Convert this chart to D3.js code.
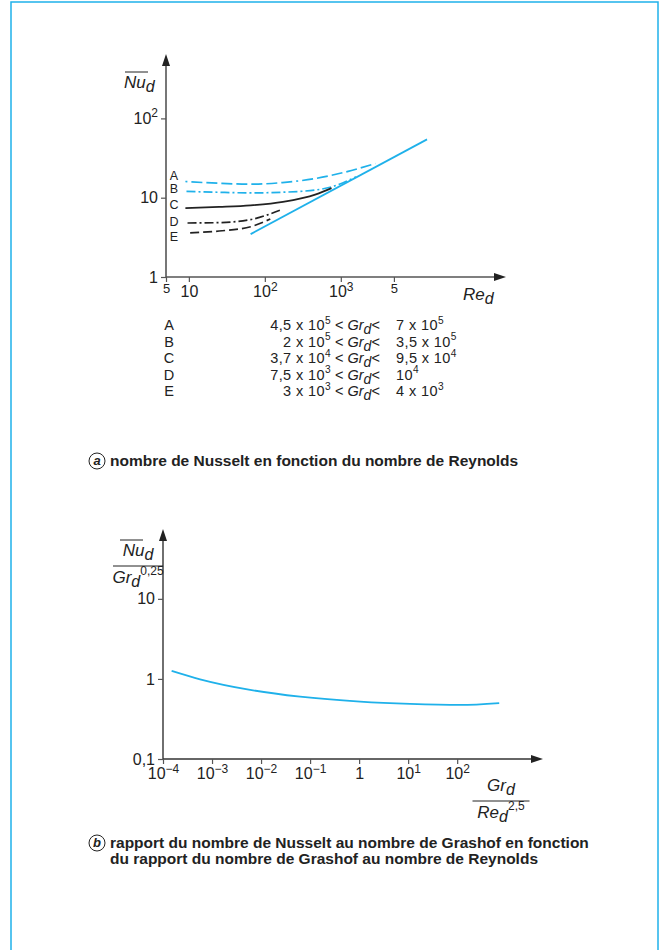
<!DOCTYPE html>
<html><head>
<meta charset="utf-8">
<script src="https://d3js.org/d3.v7.min.js"></script>
<style>
body { margin: 0; background: #fff; font-family: "Liberation Sans", Arial, sans-serif; }
</style>
</head>
<body>
<svg id="fig" width="661" height="950"></svg>
<script>
// ---- data ----
// (a) Nu_d vs Re_d, one curve per Grashof range
const curveKeys = ["A", "B", "C", "D", "E"];
const reA = [9, 25, 65, 170, 470, 1250, 2850];
const nuA = [16, 15.2, 14.8, 15.5, 17.5, 21.5, 27];
const reB = [9.3, 25, 65, 285, 755, 1580];
const nuB = [12, 11.7, 11.5, 12, 13.7, 18.3];
const reC = [9, 25, 65, 173, 470, 755];
const nuC = [7.4, 7.65, 8.0, 8.85, 11, 13.2];
const reD = [9.6, 25, 65, 167];
const nuD = [4.8, 4.85, 5.3, 7.1];
const reE = [10.4, 25, 65, 118];
const nuE = [3.6, 3.8, 4.3, 5.4];
const reLine = [65, 13650];
const nuLine = [3.47, 54.4];

const aXTicks = [5, 10, 100, 1000, 5000];
const aXLabels = [["5", ""], ["10", ""], ["10", "2"], ["10", "3"], ["5", ""]];
const aYTicks = [1, 10, 100];
const aYLabels = [["1", ""], ["10", ""], ["10", "2"]];

const legendLow = [["4,5 x 10", "5"], ["2 x 10", "5"], ["3,7 x 10", "4"], ["7,5  x 10", "3"], ["3 x 10", "3"]];
const legendHigh = [["7 x 10", "5"], ["3,5 x 10", "5"], ["9,5 x 10", "4"], ["10", "4"], ["4 x 10", "3"]];

// (b) Nu_d / Gr_d^0.25 vs Gr_d / Re_d^2.5
const ratioX = [1.5e-4, 5.7e-4, 6e-3, 0.0625, 1.05, 11, 115, 720];
const ratioY = [1.26, 0.99, 0.73, 0.60, 0.52, 0.487, 0.473, 0.50];

const bXTicks = [1e-4, 1e-3, 1e-2, 1e-1, 1, 10, 100];
const bXLabels = [["10", "\u22124"], ["10", "\u22123"], ["10", "\u22122"], ["10", "\u22121"], ["1", ""], ["10", "1"], ["10", "2"]];
const bYTicks = [0.1, 1, 10];
const bYLabels = [["0,1", ""], ["1", ""], ["10", ""]];

// ---- drawing ----
const blue = "#1fb1ea";
const axisCol = "#555";
const svg = d3.select("#fig");

svg.append("rect").attr("x", 11).attr("y", 2).attr("width", 647).attr("height", 980)
    .attr("fill", "none").attr("stroke", blue).attr("stroke-width", 1.5);

function supText(sel, base, exp, size, k) {
    sel.append("tspan").text(base);
    if (exp) sel.append("tspan").attr("dy", -size * 0.42).attr("font-size", size * (k || 0.75)).text(exp);
}

function arrowHead(g, x, y, dir) {
    const p = dir === "up"
        ? [[x, y], [x - 4, y + 12], [x + 4, y + 12]]
        : [[x, y], [x - 12, y - 4], [x - 12, y + 4]];
    g.append("path").attr("d", "M" + p.join("L") + "Z").attr("fill", "#222");
}

function styleAxis(g, labels, size) {
    g.select(".domain").remove();
    g.selectAll(".tick line").attr("stroke", axisCol).attr("stroke-width", 1.2);
    g.selectAll(".tick text").each(function(d, i) {
        const t = d3.select(this).text("").attr("fill", "#222").attr("font-size", size);
        supText(t, labels[i][0], labels[i][1], size);
    });
}

// chart a
const xa = d3.scaleLog().domain([5, 1.45e5]).range([166, 505]);
const ya = d3.scaleLog().domain([1, 630]).range([277, 55]);
const ga = svg.append("g");

ga.append("line").attr("x1", 166).attr("x2", 166).attr("y1", 277).attr("y2", 64)
    .attr("stroke", axisCol).attr("stroke-width", 1.6);
ga.append("line").attr("x1", 166).attr("x2", 496).attr("y1", 277).attr("y2", 277)
    .attr("stroke", axisCol).attr("stroke-width", 1.6);
arrowHead(ga, 166, 54, "up");
arrowHead(ga, 506, 277, "right");

const axA = ga.append("g").attr("transform", "translate(0,277)")
    .call(d3.axisBottom(xa).tickValues(aXTicks).tickSize(5).tickPadding(4));
styleAxis(axA, aXLabels, 16);
axA.selectAll(".tick text").filter((d, i) => aXLabels[i][0] === "5")
    .attr("font-size", 13).attr("dy", "0.5em");
const ayA = ga.append("g").attr("transform", "translate(166,0)")
    .call(d3.axisLeft(ya).tickValues(aYTicks).tickSize(5).tickPadding(3));
styleAxis(ayA, aYLabels, 16);

const lineA = d3.line().x(d => xa(d[0])).y(d => ya(d[1])).curve(d3.curveMonotoneX);
const series = [
    { key: "A", re: reA, nu: nuA, color: blue, dash: "2,4,11,4,11,4,11,4,11,4,11,4,11,4,11,4" },
    { key: "B", re: reB, nu: nuB, color: blue, dash: "9,3,2,3" },
    { key: "C", re: reC, nu: nuC, color: "#222", dash: null },
    { key: "D", re: reD, nu: nuD, color: "#222", dash: "9,3,2,3" },
    { key: "E", re: reE, nu: nuE, color: "#222", dash: "9,4" }
];
series.forEach(s => {
    ga.append("path").datum(s.re.map((r, i) => [r, s.nu[i]]))
        .attr("d", lineA).attr("fill", "none").attr("stroke", s.color)
        .attr("stroke-width", 1.7).attr("stroke-dasharray", s.dash);
});
ga.append("path").datum(reLine.map((r, i) => [r, nuLine[i]]))
    .attr("d", lineA).attr("fill", "none").attr("stroke", blue).attr("stroke-width", 1.8);

const letterY = [175.5, 189, 205, 222, 237];
curveKeys.forEach((k, i) => {
    ga.append("text").attr("x", 174).attr("y", letterY[i]).attr("dy", "0.35em")
        .attr("text-anchor", "middle").attr("font-size", 12.5).attr("fill", "#222").text(k);
});

// axis titles chart a
const nuLab = ga.append("text").attr("x", 124).attr("y", 88).attr("font-size", 17)
    .attr("font-style", "italic").attr("fill", "#222");
nuLab.append("tspan").text("Nu");
nuLab.append("tspan").attr("dy", 4).attr("font-size", 16).text("d");
ga.append("line").attr("x1", 125).attr("x2", 148).attr("y1", 72).attr("y2", 72)
    .attr("stroke", "#222").attr("stroke-width", 1);
const reLab = ga.append("text").attr("x", 463).attr("y", 300).attr("font-size", 17)
    .attr("font-style", "italic").attr("fill", "#222");
reLab.append("tspan").text("Re");
reLab.append("tspan").attr("dy", 4).attr("font-size", 16).text("d");

// legend
const legY = [325, 341.5, 358, 374.5, 391];
const legFont = 14.5;
curveKeys.forEach((k, i) => {
    const y = legY[i];
    const leg = ga.append("g").attr("font-size", legFont).attr("fill", "#222");
    leg.append("text").attr("x", 169).attr("y", y).attr("dy", "0.35em").attr("text-anchor", "middle").text(k);
    const lo = leg.append("text").attr("x", 331).attr("y", y).attr("dy", "0.35em")
        .attr("text-anchor", "end").attr("letter-spacing", 0.4);
    supText(lo, legendLow[i][0], legendLow[i][1], legFont, 0.7);
    const mid = leg.append("text").attr("x", 335).attr("y", y).attr("dy", "0.35em");
    mid.append("tspan").text("< ");
    mid.append("tspan").attr("font-style", "italic").text("Gr");
    mid.append("tspan").attr("font-style", "italic").attr("dy", 4).attr("font-size", 14).text("d");
    mid.append("tspan").attr("dy", -4).text("<");
    const hi = leg.append("text").attr("x", 396).attr("y", y).attr("dy", "0.35em")
        .attr("letter-spacing", 0.4);
    supText(hi, legendHigh[i][0], legendHigh[i][1], legFont, 0.7);
});

function caption(y, letter, lines) {
    svg.append("circle").attr("cx", 97).attr("cy", y - 5).attr("r", 8)
        .attr("fill", "#fff").attr("stroke", "#222").attr("stroke-width", 1);
    svg.append("text").attr("x", 97).attr("y", y - 1).attr("text-anchor", "middle")
        .attr("font-size", 13).attr("font-weight", "bold").attr("font-style", "italic")
        .attr("fill", "#222").text(letter);
    lines.forEach((l, i) => {
        svg.append("text").attr("x", 110).attr("y", y + i * 16).attr("font-size", 15.5)
            .attr("font-weight", "bold").attr("fill", "#222").text(l);
    });
}
caption(466, "a", ["nombre de Nusselt en fonction du nombre de Reynolds"]);

// chart b
const xb = d3.scaleLog().domain([1e-4, Math.pow(10, 3.73)]).range([163, 542]);
const yb = d3.scaleLog().domain([0.1, 72.4]).range([759, 530]);
const gb = svg.append("g");

gb.append("line").attr("x1", 163).attr("x2", 163).attr("y1", 759).attr("y2", 538)
    .attr("stroke", "#333").attr("stroke-width", 1.4);
gb.append("line").attr("x1", 163).attr("x2", 533).attr("y1", 759).attr("y2", 759)
    .attr("stroke", "#333").attr("stroke-width", 1.4);
arrowHead(gb, 163, 529, "up");
arrowHead(gb, 543, 759, "right");

const axB = gb.append("g").attr("transform", "translate(0,759)")
    .call(d3.axisBottom(xb).tickValues(bXTicks).tickSize(5).tickPadding(4));
styleAxis(axB, bXLabels, 16);
const ayB = gb.append("g").attr("transform", "translate(163,0)")
    .call(d3.axisLeft(yb).tickValues(bYTicks).tickSize(5).tickPadding(3));
styleAxis(ayB, bYLabels, 16);

const lineB = d3.line().x(d => xb(d[0])).y(d => yb(d[1])).curve(d3.curveMonotoneX);
gb.append("path").datum(ratioX.map((r, i) => [r, ratioY[i]]))
    .attr("d", lineB).attr("fill", "none").attr("stroke", blue).attr("stroke-width", 1.8);

// fraction labels chart b
function fraction(g, cx, yTop, top, bottom, barW) {
    const t = g.append("text").attr("x", cx).attr("y", yTop).attr("text-anchor", "middle")
        .attr("font-size", 17).attr("font-style", "italic").attr("fill", "#222");
    t.append("tspan").text(top[0]);
    t.append("tspan").attr("dy", 4).attr("font-size", 16).text(top[1]);
    g.append("line").attr("x1", cx - barW / 2).attr("x2", cx + barW / 2)
        .attr("y1", yTop + 10).attr("y2", yTop + 10).attr("stroke", "#222").attr("stroke-width", 1);
    const b = g.append("text").attr("x", cx).attr("y", yTop + 27).attr("text-anchor", "middle")
        .attr("font-size", 17).attr("font-style", "italic").attr("fill", "#222");
    b.append("tspan").text(bottom[0]);
    b.append("tspan").attr("dy", 4).attr("font-size", 16).text(bottom[1]);
    b.append("tspan").attr("dy", -12).attr("font-size", 12).attr("font-style", "normal").text(bottom[2]);
    return t;
}
fraction(gb, 138, 556, ["Nu", "d"], ["Gr", "d", "0,25"], 50);
gb.append("line").attr("x1", 120).attr("x2", 143).attr("y1", 540).attr("y2", 540)
    .attr("stroke", "#222").attr("stroke-width", 1);
fraction(gb, 501, 791, ["Gr", "d"], ["Re", "d", "2,5"], 57);

caption(848, "b", ["rapport du nombre de Nusselt au nombre de Grashof en fonction",
    "du rapport du nombre de Grashof au nombre de Reynolds"]);
</script>
</body>
</html>
